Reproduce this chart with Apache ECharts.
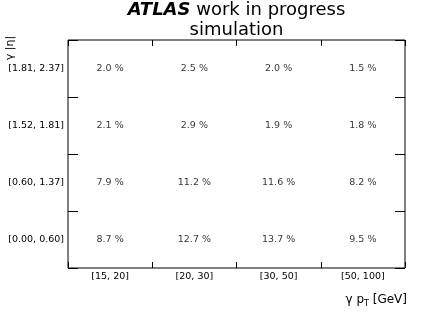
<!DOCTYPE html>
<html>
<head>
<meta charset="utf-8">
<script src="https://cdn.jsdelivr.net/npm/echarts@6/dist/echarts.min.js"></script>
<style>html,body{margin:0;padding:0;background:#fff;}#c{width:427px;height:316px;}</style>
</head>
<body>
<div id="c"></div>
<script>
var ptBins = ['[15, 20]', '[20, 30]', '[30, 50]', '[50, 100]'];
var etaBins = ['[0.00, 0.60]', '[0.60, 1.37]', '[1.52, 1.81]', '[1.81, 2.37]'];
// values (%) per eta row, across pt bins
var eta0 = [8.7, 12.7, 13.7, 9.5];
var eta1 = [7.9, 11.2, 11.6, 8.2];
var eta2 = [2.1, 2.9, 1.9, 1.8];
var eta3 = [2.0, 2.5, 2.0, 1.5];
var rows = [eta0, eta1, eta2, eta3];

var data = [];
rows.forEach(function (r, yi) {
  r.forEach(function (v, xi) { data.push([xi, yi, v]); });
});

var FONT = 'DejaVu Sans';
var chart = echarts.init(document.getElementById('c'), null, {renderer: 'canvas'});
chart.setOption({
  animation: false,
  backgroundColor: '#fff',
  textStyle: {fontFamily: FONT},
  grid: {left: 68, right: 22, top: 40, bottom: 48, show: true, borderColor: '#000', borderWidth: 1},
  title: {
    left: 236.5, top: 0, padding: 0, textAlign: 'center',
    text: '{b|ATLAS} {n|work in progress}\n{n|simulation}',
    textStyle: {
      fontFamily: FONT, lineHeight: 20, fontWeight: 'normal',
      rich: {
        b: {fontFamily: FONT, fontSize: 18, fontWeight: 'bold', fontStyle: 'italic', color: '#000', lineHeight: 20},
        n: {fontFamily: FONT, fontSize: 18, fontWeight: 'normal', color: '#000', lineHeight: 20}
      }
    }
  },
  xAxis: [{
    type: 'category', data: ptBins, position: 'bottom',
    axisLine: {show: false},
    axisTick: {show: true, inside: true, length: 6, lineStyle: {color: '#000'}},
    axisLabel: {color: '#000', fontSize: 9.5, fontFamily: FONT, margin: 4},
    splitLine: {show: false}
  }, {
    type: 'category', data: ptBins, position: 'top',
    axisLine: {show: false},
    axisTick: {show: true, inside: true, length: 6, lineStyle: {color: '#000'}},
    axisLabel: {show: false},
    splitLine: {show: false}
  }],
  yAxis: [{
    type: 'category', data: etaBins, position: 'left',
    axisLine: {show: false},
    axisTick: {show: true, inside: true, length: 10, lineStyle: {color: '#000'}},
    axisLabel: {color: '#000', fontSize: 9.5, fontFamily: FONT, margin: 4},
    splitLine: {show: false}
  }, {
    type: 'category', data: etaBins, position: 'right',
    axisLine: {show: false},
    axisTick: {show: true, inside: true, length: 10, lineStyle: {color: '#000'}},
    axisLabel: {show: false},
    splitLine: {show: false}
  }],
  graphic: [{
    type: 'text',
    x: 10, y: 48, rotation: Math.PI / 2,
    style: {text: 'γ |η|', font: '11px "DejaVu Sans"', fill: '#000', align: 'center', verticalAlign: 'middle'}
  }, {
    type: 'text',
    x: 407, y: 300,
    style: {
      text: '{n|γ p}{s|T}{n| [GeV]}', align: 'right', verticalAlign: 'middle',
      rich: {
        n: {fontFamily: FONT, fontSize: 12, fill: '#000', color: '#000'},
        s: {fontFamily: FONT, fontSize: 8, fill: '#000', color: '#000', padding: [8, 0, 0, 0]}
      }
    }
  }],
  series: [{
    type: 'scatter',
    xAxisIndex: 0, yAxisIndex: 0,
    symbolSize: 0,
    data: data,
    label: {
      show: true, position: 'inside', color: '#000', fontSize: 9.5, fontFamily: FONT,
      formatter: function (p) { return p.value[2].toFixed(1) + ' %'; }
    }
  }]
});
</script>
</body>
</html>
